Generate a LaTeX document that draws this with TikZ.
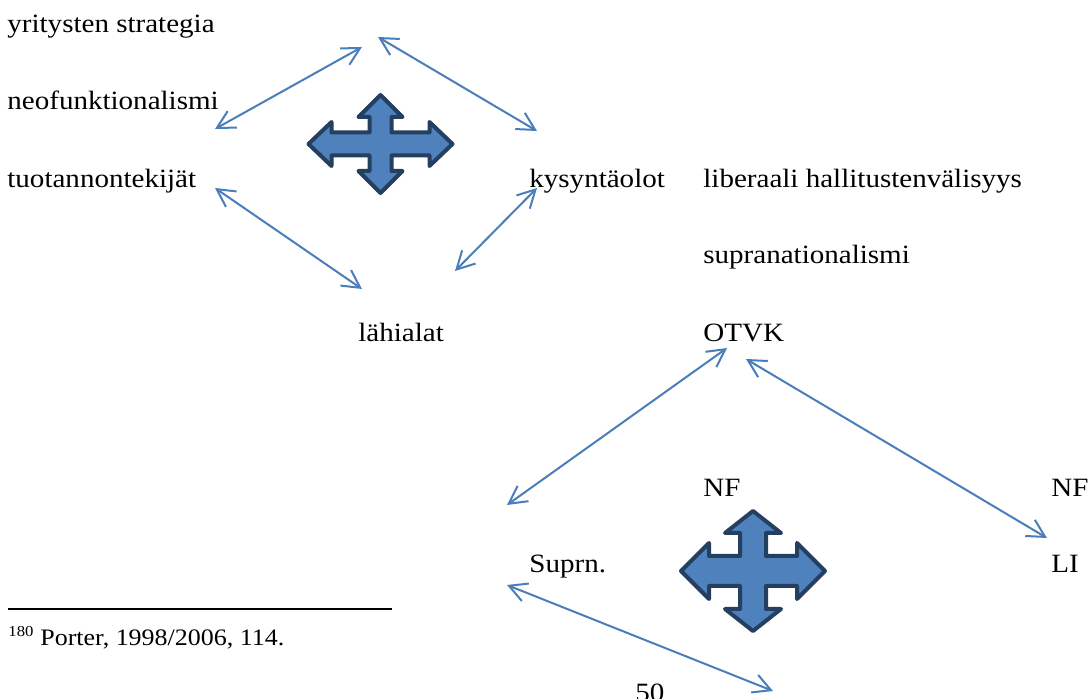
\documentclass[tikz,border=0pt]{standalone}
\usepackage{fontspec}
\setmainfont[FakeStretch=1.1]{Liberation Serif}
\usetikzlibrary{arrows.meta}
\definecolor{arrowblue}{HTML}{4A7EBB}
\definecolor{crossfill}{HTML}{4F81BD}
\definecolor{crossline}{HTML}{243F60}
\newcommand\mainsize{\fontsize{13.2}{15}\selectfont}
\newcommand\fnsize{\fontsize{11.8}{14}\selectfont}
\newcommand\fnmarksize{\fontsize{7.6}{9}\selectfont}
% #1 cx, #2 cy, #3 tip x, #4 tip y, #5 head base x, #6 head base y,
% #7 vertical shaft half width, #8 horizontal shaft half height, #9 head half width
\newcommand\quadarrow[9]{%
  \draw[crossshape, shift={(#1,#2)}]
    (0,-#4) -- (#9,-#6) -- (#7,-#6) -- (#7,-#8) -- (#5,-#8) -- (#5,-#9) -- (#3,0)
    -- (#5,#9) -- (#5,#8) -- (#7,#8) -- (#7,#6) -- (#9,#6) -- (0,#4)
    -- (-#9,#6) -- (-#7,#6) -- (-#7,#8) -- (-#5,#8) -- (-#5,#9) -- (-#3,0)
    -- (-#5,-#9) -- (-#5,-#8) -- (-#7,-#8) -- (-#7,-#6) -- (-#9,-#6) -- cycle;}
\begin{document}
\begin{tikzpicture}[x=0.5pt,y=-0.5pt,
  lbl/.style={anchor=base west, inner sep=0pt, font=\mainsize},
  link/.style={draw=arrowblue, line width=1pt,
    {Straight Barb[length=8.8pt,width=9.4pt]}-{Straight Barb[length=8.8pt,width=9.4pt]}},
  crossshape/.style={fill=crossfill, draw=crossline, line width=2pt, line join=round}]
\useasboundingbox (0,0) rectangle (1088,699);
\fill[white] (0,0) rectangle (1088,699);

% upper diagram texts
\node[lbl] (ys) at (7,33) {yritysten strategia};
\node[lbl] (nf1) at (7,110) {neofunktionalismi};
\node[lbl] (tt) at (7,188) {tuotannontekijät};
\node[lbl] (ky) at (529,188) {kysyntäolot};
\node[lbl] (lh) at (703,188) {liberaali hallitustenvälisyys};
\node[lbl] (sn) at (703,264) {supranationalismi};
\node[lbl] (la) at (358,342) {lähialat};
\node[lbl] (ot) at (703,342) {OTVK};

% lower diagram texts
\node[lbl] (nfa) at (703,497) {NF};
\node[lbl] (nfb) at (1051,497) {NF};
\node[lbl] (su) at (529,573) {Suprn.};
\node[lbl] (li) at (1051,573) {LI};

% crosses
\quadarrow{380.5}{144}{72}{49}{49}{27}{11}{11.5}{22}
\quadarrow{753}{571}{72}{60}{44}{38}{13}{15}{28}

% arrow end points
\coordinate (a1s) at (215,129); \coordinate (a1e) at (362,47);
\coordinate (a2s) at (378,37);  \coordinate (a2e) at (537,131);
\coordinate (a3s) at (215,188); \coordinate (a3e) at (362,289);
\coordinate (a4s) at (455,271); \coordinate (a4e) at (537,188);
\coordinate (a5s) at (507,505); \coordinate (a5e) at (727,348);
\coordinate (a6s) at (746,359); \coordinate (a6e) at (1047,538);
\coordinate (a7s) at (507,585); \coordinate (a7e) at (773,691);

\draw[link] (a1s) -- (a1e);
\draw[link] (a2s) -- (a2e);
\draw[link] (a3s) -- (a3e);
\draw[link] (a4s) -- (a4e);
\draw[link] (a5s) -- (a5e);
\draw[link] (a6s) -- (a6e);
\draw[link] (a7s) -- (a7e);

% footnote
\coordinate (fr1) at (8,609); \coordinate (fr2) at (392,609);
\draw[line width=1pt] (fr1) -- (fr2);
\node[lbl, font=\fnmarksize] (fnm) at (8,637) {180};
\node[lbl, font=\fnsize] (fn) at (40,646) {Porter, 1998/2006, 114.};

% page number (cut by the page edge)
\node[lbl] (pg) at (635,702) {50};
\end{tikzpicture}
\end{document}
